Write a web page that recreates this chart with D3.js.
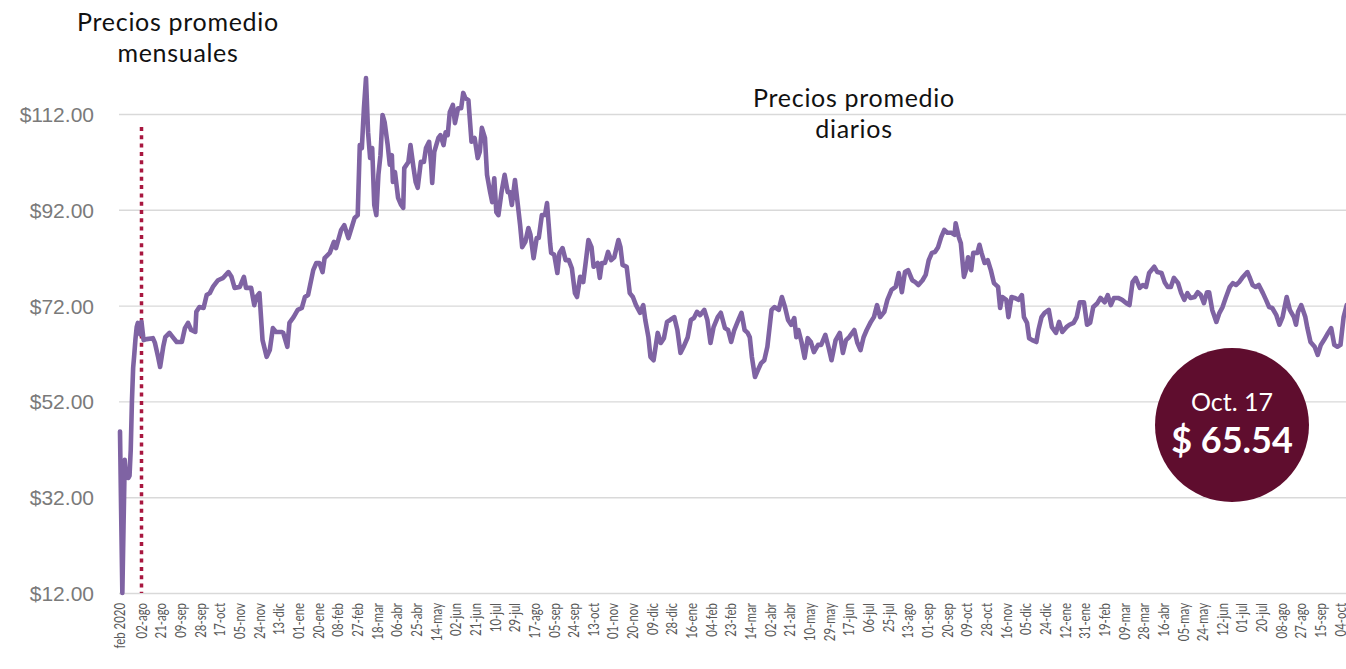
<!DOCTYPE html>
<meta charset="utf-8">
<html>
<head>
<title>Precios promedio</title>
<script src="https://d3js.org/d3.v7.min.js"></script>
<style>
  body { margin: 0; background: #fff; }
  svg { display: block; font-family: "Lato", "Open Sans", sans-serif; }
  .grid line { stroke: #d9d9d9; stroke-width: 1.4px; }
  .grid text { fill: #7a7a7a; font-size: 21px; }
  .xlab { fill: #595959; font-size: 15px; }
  .titulo { fill: #111; font-size: 25px; letter-spacing: 0.7px; }
</style>
</head>
<body>
<svg width="1346" height="669"></svg>
<script>
// ---------------- datos ----------------
// promedio mensual, feb 2020 - jul 2021
var mensualInicio = "2020-02-01";
var mensual = [45.7, 29.0, 12.0, 26.0, 39.8, 36.5, 37.5, 36.0, 36.5, 42.0, 52.0, 59.0, 62.0, 65.0, 67.5, 68.4, 67.0, 66.0];

// promedio diario: [dias desde 02-ago-2021, precio]
var diarioInicio = "2021-08-02";
var diario = [
[0,68.6],[2,64.8],[5,65.0],[11,65.2],[13,64.2],[16,61.3],[18,59.2],[21,63.4],[23,65.4],[27,66.3],[31,65.2],[34,64.4],[39,64.4],[42,67.3],[45,68.4],[48,66.9],[52,66.5],[53,70.7],[56,71.7],[60,71.5],[63,74.2],[66,74.6],[69,75.9],[74,77.3],[79,77.8],[84,79.0],[87,78.0],[90,75.7],[95,75.9],[99,78.0],[101,75.7],[106,75.7],[109,72.1],[111,73.8],[114,74.6],[117,64.8],[121,61.3],[124,62.7],[127,67.3],[130,66.5],[135,66.5],[137,66.3],[141,63.4],[143,68.4],[147,69.6],[151,71.1],[155,71.5],[158,73.8],[161,74.2],[166,79.4],[169,80.9],[172,80.9],[175,79.0],[177,81.9],[182,83.0],[186,85.3],[188,84.0],[193,87.8],[196,88.8],
[200,86.1],[203,88.2],[206,90.3],[209,90.9],[211,105.5],[213,104.9],[215,113.2],[217,119.5],[219,108.2],[221,102.8],[223,104.9],[225,93.0],[227,90.9],[229,99.3],[231,103.4],[233,111.8],[235,110.3],[238,105.5],[240,101.4],[242,103.4],[243,97.8],[245,99.9],[248,94.5],[251,93.0],[253,92.4],[254,100.7],[258,102.0],[260,105.5],[263,100.7],[265,97.8],[267,96.6],[270,102.0],[273,102.0],[275,104.9],[278,106.2],[280,101.4],[281,97.6],[283,104.1],[287,107.0],[289,107.6],[292,105.5],[294,108.2],[296,107.6],[298,112.4],[301,113.9],[303,110.1],[306,113.2],[309,113.2],[311,116.4],[313,115.3],[316,114.9],[319,106.2],[322,107.0],[325,102.8],[327,104.1],[329,109.1],[332,107.0],[334,99.3],[337,95.7],[339,93.6],[341,98.6],[343,91.5],[345,90.9],[348,95.7],[351,99.3],[354,95.7],[356,95.7],[358,93.0],[361,98.2],[363,94.5],[366,88.8],[368,84.2],[371,85.3],[374,88.2],[376,86.8],[379,81.9],[382,86.1],[384,86.1],[387,90.9],[390,90.9],[392,93.4],[395,85.0],[396,83.0],[399,82.6],
[402,78.8],[404,83.0],[407,84.0],[410,81.5],[413,81.5],[416,79.8],[419,74.6],[421,73.8],[424,78.0],[427,76.9],[430,82.1],[432,85.7],[435,84.2],[437,80.1],[441,80.9],[443,77.8],[445,80.9],[448,80.9],[451,83.2],[454,81.5],[457,82.1],[461,85.7],[463,84.2],[465,80.5],[469,80.1],[472,74.6],[475,73.8],[478,72.1],[482,70.5],[485,72.1],[487,69.0],[490,65.4],[492,61.3],[495,60.6],[499,66.3],[502,64.2],[505,65.2],[508,68.6],[511,69.0],[515,69.6],[518,66.9],[521,62.1],[524,63.4],[528,65.4],[531,69.0],[534,69.4],[537,70.7],[540,70.0],[544,71.1],[547,69.0],[550,64.2],[553,67.5],[557,69.6],[560,70.5],[564,67.3],[567,66.9],[570,64.4],[573,66.9],[577,69.0],[580,70.5],[583,66.9],[586,66.3],[588,65.4],[590,61.3],[593,57.1],[596,58.6],[599,60.0],
[602,60.6],[605,63.4],[609,71.1],[612,71.7],[616,71.1],[619,73.8],[622,71.7],[625,69.0],[628,68.0],[631,69.4],[633,65.4],[635,66.9],[638,64.4],[641,61.1],[644,65.2],[647,64.4],[650,62.3],[654,63.8],[657,63.8],[661,65.9],[664,63.4],[667,60.6],[671,64.8],[675,66.3],[678,62.1],[681,64.8],[684,65.4],[689,66.9],[692,64.2],[695,62.7],[698,65.4],[701,66.9],[705,68.6],[708,69.6],[711,72.1],[714,69.6],[718,70.7],[721,73.2],[725,75.3],[729,75.9],[732,78.8],[735,74.8],[738,79.0],[741,79.4],[745,77.3],[748,76.9],[751,76.3],[755,77.3],[758,78.4],[761,81.5],[764,83.0],[767,83.2],[770,84.2],[773,86.3],[776,87.8],[779,87.2],[783,87.2],[786,86.8],[787,89.2],[790,86.3],[792,85.0],[795,78.0],[797,79.4],[799,82.1],
[802,79.4],[804,83.0],[808,83.0],[810,84.7],[812,83.0],[815,80.9],[818,81.5],[821,79.4],[824,76.7],[828,75.9],[830,71.5],[832,73.8],[836,73.2],[838,69.6],[841,73.8],[844,73.6],[848,73.2],[851,74.2],[853,69.6],[856,68.4],[858,65.2],[861,64.8],[865,64.4],[867,66.9],[870,69.6],[873,70.5],[877,71.1],[880,67.5],[884,66.3],[887,68.6],[890,66.5],[894,67.5],[897,68.0],[901,68.4],[904,69.6],[907,72.7],[911,72.7],[914,68.0],[917,68.4],[920,71.7],[924,72.5],[927,73.6],[931,72.7],[934,74.2],[937,72.1],[940,73.6],[944,73.6],[948,73.2],[952,72.5],[955,72.1],[958,76.9],[961,77.8],[965,75.7],[968,76.3],[971,75.9],[974,78.8],[979,80.1],[982,79.0],[986,78.8],[989,76.9],[992,75.9],[995,75.9],[998,77.8],
[1002,76.7],[1005,74.6],[1008,73.2],[1011,74.6],[1014,73.6],[1018,73.8],[1021,74.8],[1024,74.2],[1027,72.5],[1030,74.8],[1032,74.8],[1035,71.1],[1039,68.6],[1042,70.5],[1045,71.7],[1048,73.6],[1052,75.9],[1055,76.7],[1058,76.3],[1061,76.9],[1064,77.8],[1069,79.0],[1071,78.0],[1074,76.3],[1077,75.9],[1080,76.3],[1084,74.6],[1087,73.2],[1090,71.7],[1093,71.5],[1097,70.0],[1100,68.0],[1103,69.6],[1107,73.8],[1110,71.1],[1114,69.6],[1116,68.0],[1118,70.7],[1121,72.1],[1125,69.6],[1127,67.3],[1130,64.4],[1134,63.4],[1137,61.7],[1140,63.8],[1143,64.8],[1147,66.3],[1150,67.3],[1153,63.8],[1156,63.4],[1159,63.8],[1162,69.6],[1165,72.1],[1168,68.0]
];

var yTicks = [12, 32, 52, 72, 92, 112];
var meses = ["ene", "feb", "mar", "abr", "may", "jun", "jul", "ago", "sep", "oct", "nov", "dic"];
var primeraEtiqueta = "feb 2020";
var ultimaEtiqueta = "2024-10-04";
var pasoEtiquetas = 19; // dias entre etiquetas

var tituloMensual = ["Precios promedio", "mensuales"];
var tituloDiario = ["Precios promedio", "diarios"];
var notaFecha = "Oct. 17";
var notaPrecio = "$ 65.54";

// ---------------- escalas ----------------
var svg = d3.select("svg"),
    width = +svg.attr("width"),
    height = +svg.attr("height");

var parse = d3.timeParse("%Y-%m-%d");
var t0 = parse(mensualInicio), t1 = parse(diarioInicio), t2 = parse(ultimaEtiqueta);

// eje de fechas en dos tramos: meses comprimidos + dias
var x = d3.scaleTime().domain([t0, t1, t2]).range([120, 141.5, 1340.5]);
var y = d3.scaleLinear().domain([12, 112]).range([593, 114]);

// ---------------- rejilla y eje Y ----------------
var gy = svg.append("g")
    .attr("class", "grid")
    .attr("transform", "translate(119,0)")
    .call(d3.axisLeft(y)
        .tickValues(yTicks)
        .tickSize(-(width - 119))
        .tickPadding(25)
        .tickFormat(function(d) { return "$" + d.toFixed(2); }));
gy.select(".domain").remove();
gy.selectAll("text").attr("dy", "0.36em");

// ---------------- eje X ----------------
var fechas = [t0].concat(d3.timeDay.range(t1, d3.timeDay.offset(t2, 1), pasoEtiquetas));
svg.append("g").selectAll("text")
    .data(fechas)
  .enter().append("text")
    .attr("class", "xlab")
    .attr("text-anchor", "end")
    .attr("dy", "0.35em")
    .attr("transform", function(d) { return "translate(" + x(d) + ",603) rotate(-90) scale(0.76,1)"; })
    .text(function(d, i) {
        if (i == 0) return primeraEtiqueta;
        return d3.timeFormat("%d")(d) + "-" + meses[d.getMonth()];
    });

// ---------------- linea divisoria ----------------
svg.append("line")
    .attr("x1", x(t1)).attr("x2", x(t1))
    .attr("y1", 127).attr("y2", y(12))
    .attr("stroke", "#a8173f")
    .attr("stroke-width", 3.5)
    .attr("stroke-dasharray", "4,4.3");

// ---------------- serie ----------------
var puntos = mensual.map(function(v, i) { return { fecha: d3.timeMonth.offset(t0, i), valor: v }; })
    .concat(diario.map(function(d) { return { fecha: d3.timeDay.offset(t1, d[0]), valor: d[1] }; }));

var linea = d3.line()
    .x(function(d) { return x(d.fecha); })
    .y(function(d) { return y(d.valor); });

svg.append("path")
    .datum(puntos)
    .attr("d", linea)
    .attr("fill", "none")
    .attr("stroke", "#7f63a3")
    .attr("stroke-width", 4.6)
    .attr("stroke-linejoin", "round")
    .attr("stroke-linecap", "round");

// ---------------- titulos ----------------
function titulo(lineas, cx, y0) {
    svg.append("g").selectAll("text")
        .data(lineas)
      .enter().append("text")
        .attr("class", "titulo")
        .attr("text-anchor", "middle")
        .attr("x", cx)
        .attr("y", function(d, i) { return y0 + i * 31; })
        .text(function(d) { return d; });
}
titulo(tituloMensual, 178, 31);
titulo(tituloDiario, 854, 107);

// ---------------- nota ----------------
var nota = svg.append("g").attr("transform", "translate(1232,425)");
nota.append("circle").attr("r", 77).attr("fill", "#5f0d2e");
nota.append("text")
    .attr("text-anchor", "middle").attr("y", -14)
    .attr("fill", "#fff").style("font-size", "25px")
    .text(notaFecha);
nota.append("text")
    .attr("text-anchor", "middle").attr("y", 28)
    .attr("fill", "#fff").style("font-size", "36px").style("font-weight", "bold")
    .text(notaPrecio);
</script>
</body>
</html>
